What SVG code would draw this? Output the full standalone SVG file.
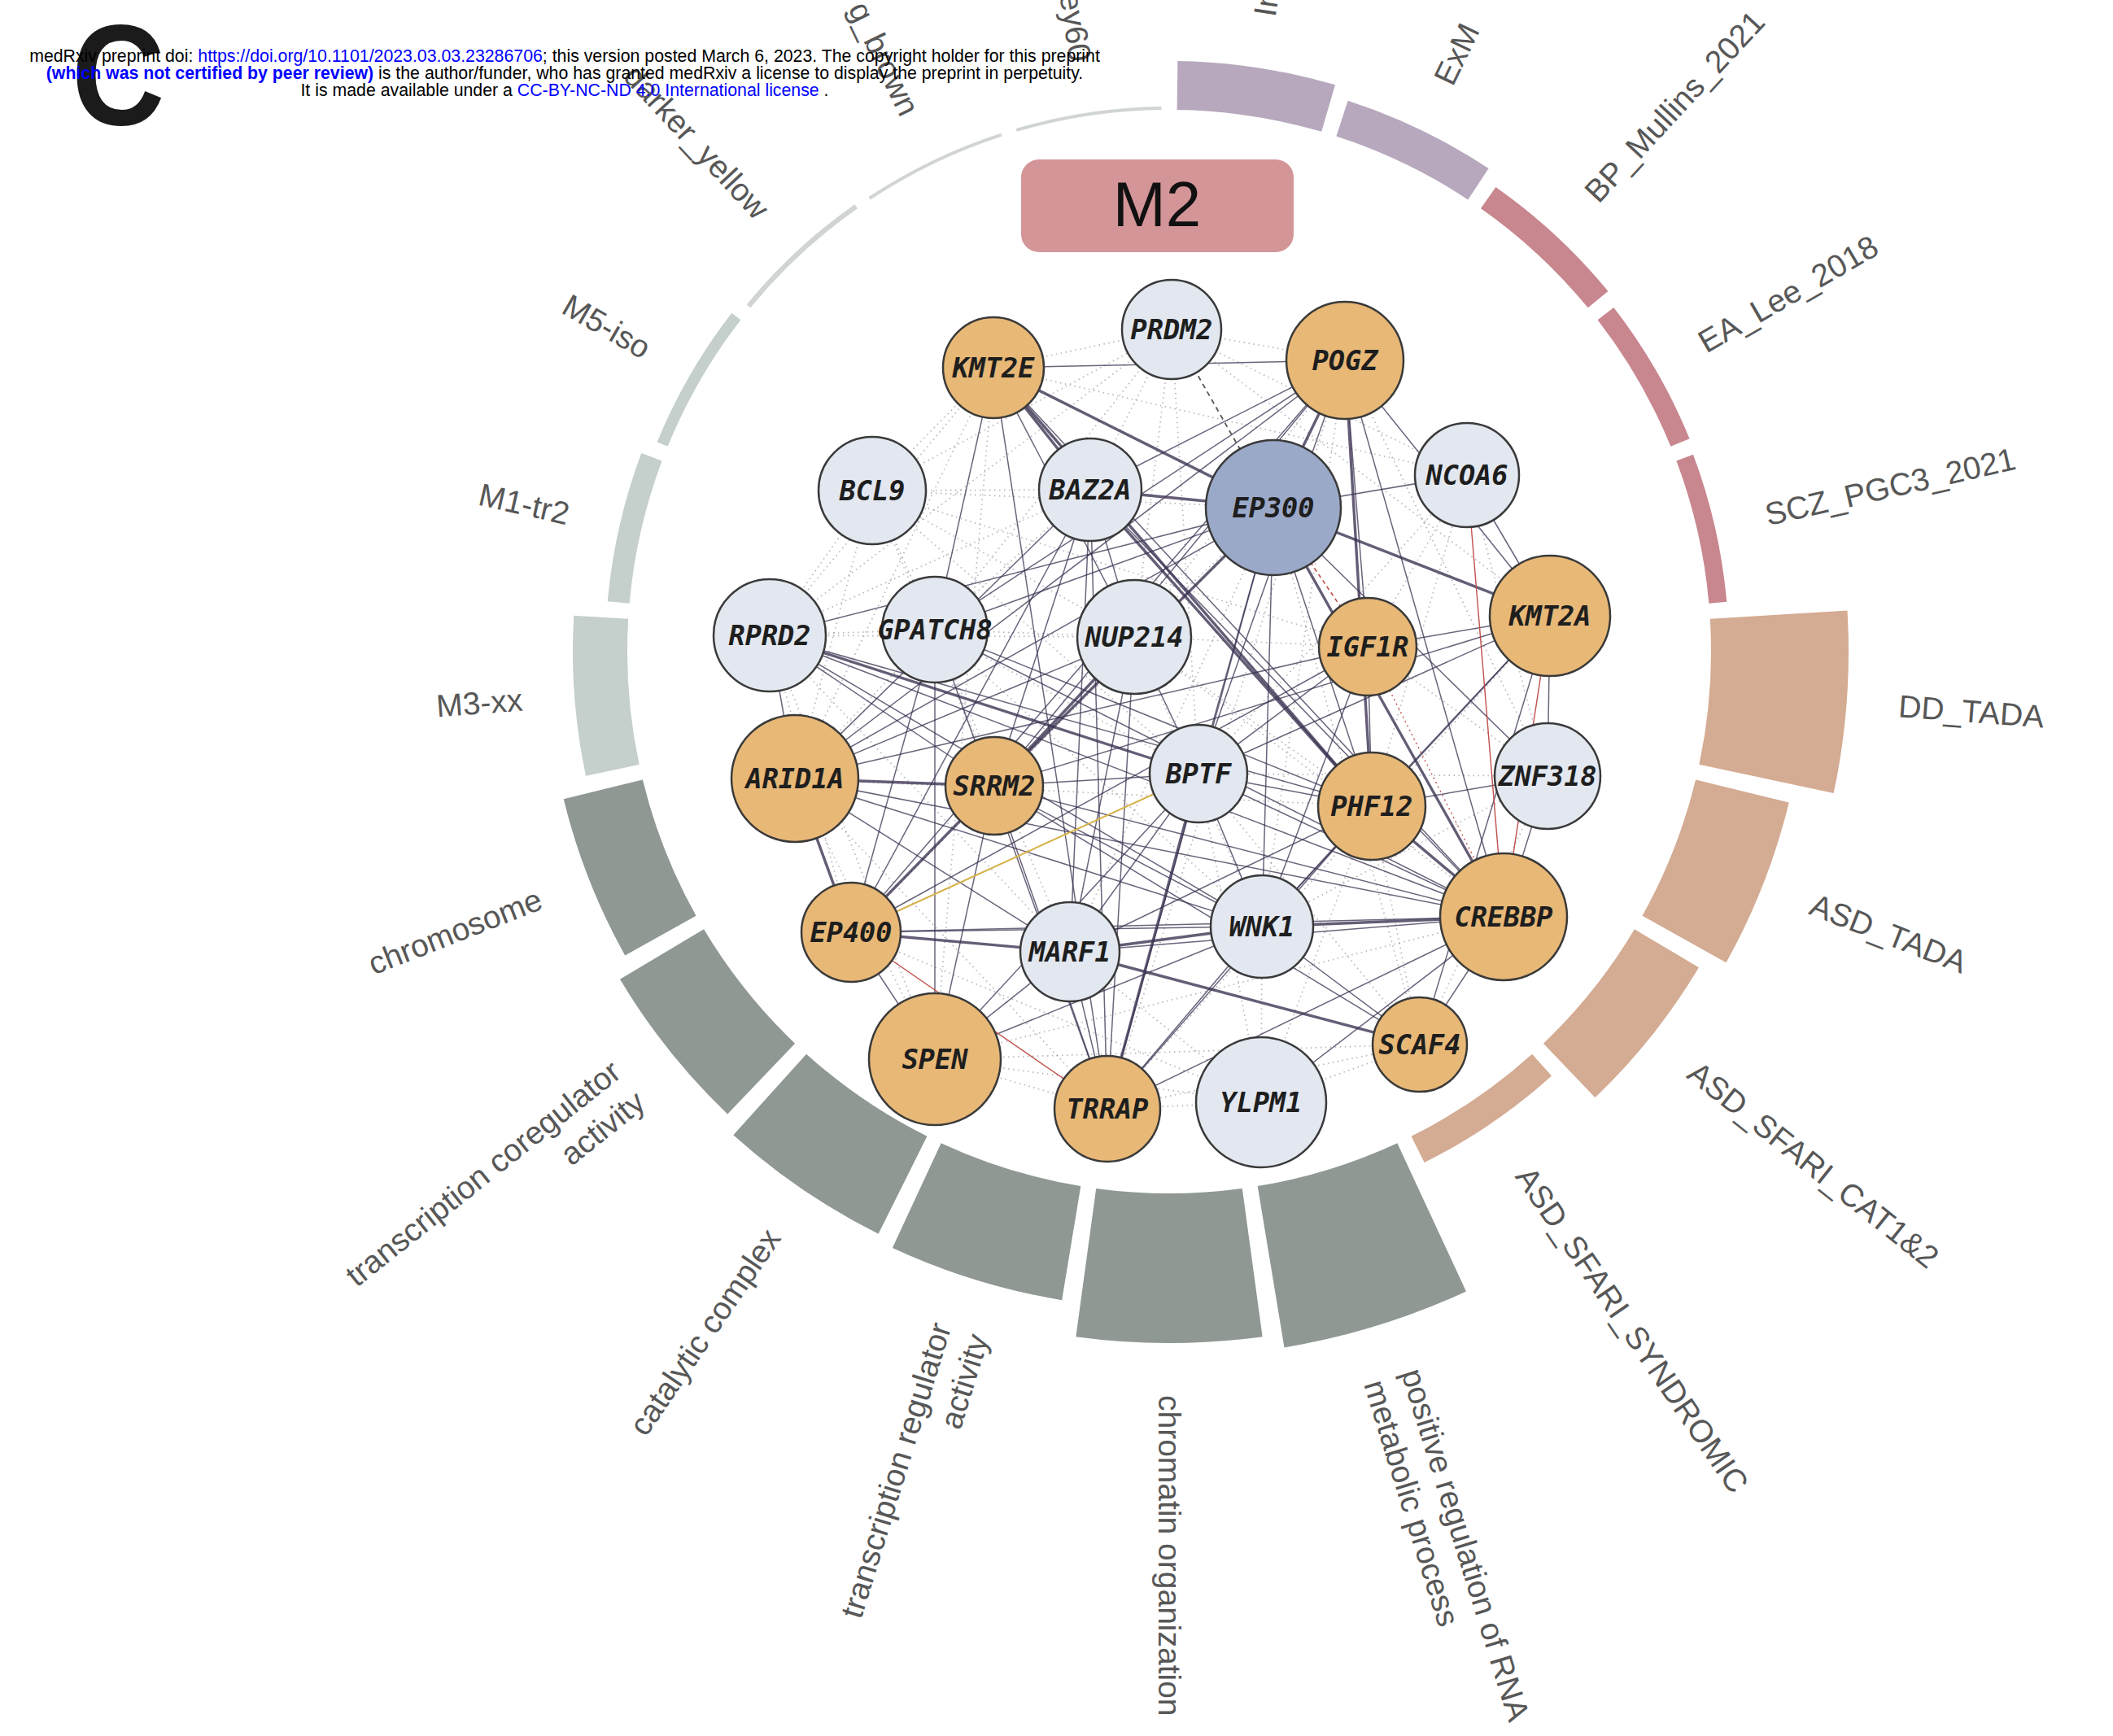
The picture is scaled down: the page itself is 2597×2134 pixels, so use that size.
<svg xmlns="http://www.w3.org/2000/svg" width="2597" height="2134" viewBox="0 0 2597 2134">
<style>
.lbl{font-family:"Liberation Sans",Arial,sans-serif;font-size:39px;fill:#575757}
.tan{fill:#d4ab93}.gry{fill:#8f9892}.mod{fill:#c5cfcb}.thin{fill:#d0d4d3}.mau{fill:#b7a8bd}.ros{fill:#c8878f}
.e{stroke:#3a3050;stroke-width:1.5;stroke-opacity:.75;fill:none}
.eh{stroke:#3a3050;stroke-width:3.4;stroke-opacity:.78;fill:none}
.d{stroke:#8f8f98;stroke-width:1.7;stroke-dasharray:1.5 4.5;stroke-opacity:.65;fill:none}
.node circle{stroke:#3a3a3a;stroke-width:2.5}
.or{fill:#e8b877}.lt{fill:#e3e8f0}.bl{fill:#9ba9c9}
.node text{font-family:"DejaVu Sans Mono",monospace;font-weight:bold;font-style:italic;font-size:33.5px;fill:#1e1e1e;text-anchor:middle}
.hdr{font-family:"Liberation Sans",Arial,sans-serif;font-size:21.3px;fill:#000;text-anchor:middle}
.lnk{fill:#0000ff}
</style>

<!-- panel letter -->
<text x="88" y="153" font-family="Liberation Sans,Arial,sans-serif" font-weight="bold" font-size="176" fill="#1b1b1b" transform="translate(88 0) scale(0.9 1) translate(-88 0)">C</text>

<!-- ring segments with labels -->
<g id="ring" transform="translate(1437 801)">
  <g id="seg-DD_TADA" transform="rotate(4.2857)">
    <path class="tan" d="M659.92 -89.81L827.37 -112.6A835 835 0 0 1 827.37 112.6L659.92 89.81A666 666 0 0 0 659.92 -89.81Z"/>
    <text class="lbl" x="899" y="13">DD_TADA</text>
  </g>
  <g id="seg-ASD_TADA" transform="rotate(21.4286)">
    <path class="tan" d="M659.92 -89.81L776.84 -105.72A784 784 0 0 1 776.84 105.72L659.92 89.81A666 666 0 0 0 659.92 -89.81Z"/>
    <text class="lbl" x="848" y="13">ASD_TADA</text>
  </g>
  <g id="seg-ASD_SFARI_CAT1and2" transform="rotate(38.5714)">
    <path class="tan" d="M659.92 -89.81L751.08 -102.22A758 758 0 0 1 751.08 102.22L659.92 89.81A666 666 0 0 0 659.92 -89.81Z"/>
    <text class="lbl" x="822" y="13">ASD_SFARI_CAT1&amp;2</text>
  </g>
  <g id="seg-ASD_SFARI_SYNDROMIC" transform="rotate(55.7143)">
    <path class="tan" d="M659.92 -89.81L695.59 -94.67A702 702 0 0 1 695.59 94.67L659.92 89.81A666 666 0 0 0 659.92 -89.81Z"/>
    <text class="lbl" x="772" y="13">ASD_SFARI_SYNDROMIC</text>
  </g>
  <g id="seg-posreg" transform="rotate(72.8571)">
    <path class="gry" d="M659.92 -89.81L859.08 -116.92A867 867 0 0 1 859.08 116.92L659.92 89.81A666 666 0 0 0 659.92 -89.81Z"/>
    <text class="lbl" x="931" y="-11">positive regulation of RNA</text>
    <text class="lbl" x="931" y="37">metabolic process</text>
  </g>
  <g id="seg-chromatin" transform="rotate(90)">
    <path class="gry" d="M659.92 -89.81L842.24 -114.62A850 850 0 0 1 842.24 114.62L659.92 89.81A666 666 0 0 0 659.92 -89.81Z"/>
    <text class="lbl" x="914" y="13">chromatin organization</text>
  </g>
  <g id="seg-trreg" transform="rotate(107.1429)">
    <path class="gry" d="M659.92 -89.81L800.62 -108.96A808 808 0 0 1 800.62 108.96L659.92 89.81A666 666 0 0 0 659.92 -89.81Z"/>
    <g transform="translate(872 0) rotate(180)"><text class="lbl" text-anchor="end" y="-11">transcription regulator</text><text class="lbl" text-anchor="end" y="37">activity</text></g>
  </g>
  <g id="seg-catalytic" transform="rotate(124.2857)">
    <path class="gry" d="M659.92 -89.81L792.69 -107.88A800 800 0 0 1 792.69 107.88L659.92 89.81A666 666 0 0 0 659.92 -89.81Z"/>
    <g transform="translate(864 0) rotate(180)"><text class="lbl" text-anchor="end" y="13">catalytic complex</text></g>
  </g>
  <g id="seg-coreg" transform="rotate(141.4286)">
    <path class="gry" d="M659.92 -89.81L778.82 -105.99A786 786 0 0 1 778.82 105.99L659.92 89.81A666 666 0 0 0 659.92 -89.81Z"/>
    <g transform="translate(850 0) rotate(180)"><text class="lbl" text-anchor="end" y="-11">transcription coregulator</text><text class="lbl" text-anchor="end" y="37">activity</text></g>
  </g>
  <g id="seg-chromosome" transform="rotate(158.5714)">
    <path class="gry" d="M659.92 -89.81L759 -103.3A766 766 0 0 1 759 103.3L659.92 89.81A666 666 0 0 0 659.92 -89.81Z"/>
    <g transform="translate(830 0) rotate(180)"><text class="lbl" text-anchor="end" y="13">chromosome</text></g>
  </g>
  <g id="seg-M3-xx" transform="rotate(175.7143)">
    <path class="mod" d="M659.92 -89.81L726.3 -98.85A733 733 0 0 1 726.3 98.85L659.92 89.81A666 666 0 0 0 659.92 -89.81Z"/>
    <g transform="translate(797 0) rotate(180)"><text class="lbl" text-anchor="end" y="13">M3-xx</text></g>
  </g>
  <g id="seg-M1-tr2" transform="rotate(192.8571)">
    <path class="mod" d="M659.92 -89.81L686.67 -93.45A693 693 0 0 1 686.67 93.45L659.92 89.81A666 666 0 0 0 659.92 -89.81Z"/>
    <g transform="translate(757 0) rotate(180)"><text class="lbl" text-anchor="end" y="13">M1-tr2</text></g>
  </g>
  <g id="seg-M5-iso" transform="rotate(210)">
    <path class="mod" d="M659.92 -89.81L673.79 -91.7A680 680 0 0 1 673.79 91.7L659.92 89.81A666 666 0 0 0 659.92 -89.81Z"/>
    <g transform="translate(740 0) rotate(180)"><text class="lbl" text-anchor="end" y="13">M5-iso</text></g>
  </g>
  <g id="seg-darker_yellow" transform="rotate(227.1429)">
    <path class="thin" d="M659.92 -89.81L665.86 -90.62A672 672 0 0 1 665.86 90.62L659.92 89.81A666 666 0 0 0 659.92 -89.81Z"/>
    <g transform="translate(734 0) rotate(180)"><text class="lbl" text-anchor="end" y="13">darker_yellow</text></g>
  </g>
  <g id="seg-g_brown" transform="rotate(244.2857)">
    <path class="thin" d="M659.92 -89.81L663.88 -90.35A670 670 0 0 1 663.88 90.35L659.92 89.81A666 666 0 0 0 659.92 -89.81Z"/>
    <g transform="translate(734 0) rotate(180)"><text class="lbl" text-anchor="end" y="13">g_brown</text></g>
  </g>
  <g id="seg-grey60" transform="rotate(261.4286)">
    <path class="thin" d="M659.92 -89.81L663.88 -90.35A670 670 0 0 1 663.88 90.35L659.92 89.81A666 666 0 0 0 659.92 -89.81Z"/>
    <g transform="translate(734 0) rotate(180)"><text class="lbl" text-anchor="end" y="13">ey60</text></g>
  </g>
  <g id="seg-In" transform="rotate(278.5714)">
    <path class="mau" d="M659.92 -89.81L719.37 -97.9A726 726 0 0 1 719.37 97.9L659.92 89.81A666 666 0 0 0 659.92 -89.81Z"/>
    <text class="lbl" x="790" y="13">In</text>
  </g>
  <g id="seg-ExM" transform="rotate(295.7143)">
    <path class="mau" d="M659.92 -89.81L705.5 -96.01A712 712 0 0 1 705.5 96.01L659.92 89.81A666 666 0 0 0 659.92 -89.81Z"/>
    <text class="lbl" x="776" y="13">ExM</text>
  </g>
  <g id="seg-BP_Mullins_2021" transform="rotate(312.8571)">
    <path class="ros" d="M659.92 -89.81L691.62 -94.13A698 698 0 0 1 691.62 94.13L659.92 89.81A666 666 0 0 0 659.92 -89.81Z"/>
    <text class="lbl" x="762" y="13">BP_Mullins_2021</text>
  </g>
  <g id="seg-EA_Lee_2018" transform="rotate(330)">
    <path class="ros" d="M659.92 -89.81L684.69 -93.18A691 691 0 0 1 684.69 93.18L659.92 89.81A666 666 0 0 0 659.92 -89.81Z"/>
    <text class="lbl" x="755" y="13">EA_Lee_2018</text>
  </g>
  <g id="seg-SCZ_PGC3_2021" transform="rotate(347.1429)">
    <path class="ros" d="M659.92 -89.81L681.72 -92.78A688 688 0 0 1 681.72 92.78L659.92 89.81A666 666 0 0 0 659.92 -89.81Z"/>
    <text class="lbl" x="752" y="13">SCZ_PGC3_2021</text>
  </g>
</g>

<!-- module title -->
<g id="title-M2">
  <rect x="1255" y="196" width="335" height="114" rx="22" fill="#d49598"/>
  <text x="1422" y="278" font-family="Liberation Sans,Arial,sans-serif" font-size="78" fill="#111" text-anchor="middle">M2</text>
</g>

<!-- connectors -->
<g id="edges">
  <g id="dotted">
    <line class="d" x1="1072" y1="603" x2="1149" y2="774"/>
    <line class="d" x1="1072" y1="603" x2="1340" y2="602"/>
    <line class="d" x1="1072" y1="603" x2="1394" y2="783"/>
    <line class="d" x1="1072" y1="603" x2="1221" y2="452"/>
    <line class="d" x1="1072" y1="603" x2="946" y2="781"/>
    <line class="d" x1="1072" y1="603" x2="1440" y2="405"/>
    <line class="d" x1="1072" y1="603" x2="1473" y2="951"/>
    <line class="d" x1="1072" y1="603" x2="1565" y2="624"/>
    <line class="d" x1="1072" y1="603" x2="977" y2="957"/>
    <line class="d" x1="1072" y1="603" x2="1222" y2="966"/>
    <line class="d" x1="1072" y1="603" x2="1681" y2="795"/>
    <line class="d" x1="1440" y1="405" x2="1653" y2="443"/>
    <line class="d" x1="1440" y1="405" x2="1221" y2="452"/>
    <line class="d" x1="1440" y1="405" x2="1803" y2="584"/>
    <line class="d" x1="1440" y1="405" x2="1340" y2="602"/>
    <line class="d" x1="1440" y1="405" x2="1394" y2="783"/>
    <line class="d" x1="1440" y1="405" x2="1905" y2="757"/>
    <line class="d" x1="1440" y1="405" x2="1149" y2="774"/>
    <line class="d" x1="1440" y1="405" x2="1473" y2="951"/>
    <line class="d" x1="1440" y1="405" x2="946" y2="781"/>
    <line class="d" x1="1550" y1="1355" x2="1361" y2="1363"/>
    <line class="d" x1="1550" y1="1355" x2="1745" y2="1284"/>
    <line class="d" x1="1550" y1="1355" x2="1315" y2="1170"/>
    <line class="d" x1="1550" y1="1355" x2="1551" y2="1139"/>
    <line class="d" x1="1550" y1="1355" x2="1149" y2="1302"/>
    <line class="d" x1="1550" y1="1355" x2="1473" y2="951"/>
    <line class="d" x1="1550" y1="1355" x2="1686" y2="991"/>
    <line class="d" x1="1550" y1="1355" x2="1046" y2="1146"/>
    <line class="d" x1="1902" y1="954" x2="1681" y2="795"/>
    <line class="d" x1="1902" y1="954" x2="1803" y2="584"/>
    <line class="d" x1="1902" y1="954" x2="1745" y2="1284"/>
    <line class="d" x1="1902" y1="954" x2="1551" y2="1139"/>
    <line class="d" x1="1902" y1="954" x2="1473" y2="951"/>
    <line class="d" x1="946" y1="781" x2="1149" y2="774"/>
    <line class="d" x1="1149" y1="774" x2="1394" y2="783"/>
    <line class="d" x1="1394" y1="783" x2="1681" y2="795"/>
    <line class="d" x1="1394" y1="783" x2="1565" y2="624"/>
    <line class="d" x1="1394" y1="783" x2="1686" y2="991"/>
    <line class="d" x1="1394" y1="783" x2="1551" y2="1139"/>
    <line class="d" x1="1394" y1="783" x2="1848" y2="1127"/>
    <line class="d" x1="1803" y1="584" x2="1686" y2="991"/>
    <line class="d" x1="1803" y1="584" x2="1681" y2="795"/>
    <line class="d" x1="1803" y1="584" x2="1473" y2="951"/>
    <line class="d" x1="946" y1="781" x2="1046" y2="1146"/>
    <line class="d" x1="946" y1="781" x2="1315" y2="1170"/>
    <line class="d" x1="946" y1="781" x2="1394" y2="783"/>
    <line class="d" x1="946" y1="781" x2="1340" y2="602"/>
    <line class="d" x1="946" y1="781" x2="1149" y2="1302"/>
    <line class="d" x1="1149" y1="774" x2="1340" y2="602"/>
    <line class="d" x1="1149" y1="774" x2="1315" y2="1170"/>
    <line class="d" x1="1149" y1="774" x2="977" y2="957"/>
    <line class="d" x1="1149" y1="774" x2="1222" y2="966"/>
    <line class="d" x1="1149" y1="774" x2="1473" y2="951"/>
    <line class="d" x1="1149" y1="774" x2="1551" y2="1139"/>
    <line class="d" x1="1149" y1="1302" x2="1361" y2="1363"/>
    <line class="d" x1="1149" y1="1302" x2="977" y2="957"/>
    <line class="d" x1="1149" y1="1302" x2="1745" y2="1284"/>
    <line class="d" x1="1149" y1="1302" x2="1848" y2="1127"/>
    <line class="d" x1="1745" y1="1284" x2="1686" y2="991"/>
    <line class="d" x1="1745" y1="1284" x2="1361" y2="1363"/>
    <line class="d" x1="1745" y1="1284" x2="1473" y2="951"/>
    <line class="d" x1="1221" y1="452" x2="1149" y2="1302"/>
    <line class="d" x1="1221" y1="452" x2="977" y2="957"/>
    <line class="d" x1="1221" y1="452" x2="946" y2="781"/>
    <line class="d" x1="1221" y1="452" x2="1803" y2="584"/>
    <line class="d" x1="1653" y1="443" x2="1394" y2="783"/>
    <line class="d" x1="1653" y1="443" x2="1551" y2="1139"/>
    <line class="d" x1="1653" y1="443" x2="1902" y2="954"/>
    <line class="d" x1="1653" y1="443" x2="1361" y2="1363"/>
    <line class="d" x1="1565" y1="624" x2="1315" y2="1170"/>
    <line class="d" x1="1565" y1="624" x2="1046" y2="1146"/>
    <line class="d" x1="1565" y1="624" x2="1745" y2="1284"/>
    <line class="d" x1="977" y1="957" x2="1361" y2="1363"/>
    <line class="d" x1="977" y1="957" x2="1686" y2="991"/>
    <line class="d" x1="1905" y1="757" x2="1361" y2="1363"/>
  </g>
  <g id="solid">
    <line class="e" x1="1221" y1="452" x2="1653" y2="443"/>
    <line class="eh" x1="1221" y1="452" x2="1340" y2="602"/>
    <line class="eh" x1="1221" y1="452" x2="1565" y2="624"/>
    <line class="e" x1="1221" y1="452" x2="1149" y2="774"/>
    <line class="e" x1="1221" y1="452" x2="1361" y2="1363"/>
    <line class="e" x1="1221" y1="452" x2="1394" y2="783"/>
    <line class="eh" x1="1221" y1="452" x2="1686" y2="991"/>
    <line class="e" x1="1221" y1="452" x2="1848" y2="1127"/>
    <line class="eh" x1="1653" y1="443" x2="1565" y2="624"/>
    <line class="e" x1="1653" y1="443" x2="1340" y2="602"/>
    <line class="e" x1="1653" y1="443" x2="1149" y2="774"/>
    <line class="e" x1="1653" y1="443" x2="977" y2="957"/>
    <line class="e" x1="1653" y1="443" x2="1905" y2="757"/>
    <line class="e" x1="1653" y1="443" x2="1681" y2="795"/>
    <line class="eh" x1="1653" y1="443" x2="1686" y2="991"/>
    <line class="e" x1="1653" y1="443" x2="1473" y2="951"/>
    <line class="e" x1="1653" y1="443" x2="1848" y2="1127"/>
    <line class="e" x1="1653" y1="443" x2="1222" y2="966"/>
    <line class="e" x1="1653" y1="443" x2="1046" y2="1146"/>
    <line class="eh" x1="1340" y1="602" x2="1565" y2="624"/>
    <line class="e" x1="1340" y1="602" x2="1394" y2="783"/>
    <line class="eh" x1="1340" y1="602" x2="1686" y2="991"/>
    <line class="e" x1="1340" y1="602" x2="1848" y2="1127"/>
    <line class="e" x1="1340" y1="602" x2="1222" y2="966"/>
    <line class="e" x1="1340" y1="602" x2="1046" y2="1146"/>
    <line class="e" x1="1340" y1="602" x2="1315" y2="1170"/>
    <line class="e" x1="1340" y1="602" x2="1361" y2="1363"/>
    <line class="e" x1="1340" y1="602" x2="977" y2="957"/>
    <line class="e" x1="1565" y1="624" x2="1803" y2="584"/>
    <line class="eh" x1="1565" y1="624" x2="1905" y2="757"/>
    <line class="eh" x1="1565" y1="624" x2="1848" y2="1127"/>
    <line class="e" x1="1565" y1="624" x2="1686" y2="991"/>
    <line class="e" x1="1565" y1="624" x2="1473" y2="951"/>
    <line class="e" x1="1565" y1="624" x2="1551" y2="1139"/>
    <line class="e" x1="1565" y1="624" x2="1361" y2="1363"/>
    <line class="eh" x1="1565" y1="624" x2="1222" y2="966"/>
    <line class="e" x1="1565" y1="624" x2="1149" y2="774"/>
    <line class="e" x1="1565" y1="624" x2="946" y2="781"/>
    <line class="e" x1="1565" y1="624" x2="977" y2="957"/>
    <line class="e" x1="1565" y1="624" x2="1902" y2="954"/>
    <line class="e" x1="1803" y1="584" x2="1905" y2="757"/>
    <line class="e" x1="1905" y1="757" x2="1681" y2="795"/>
    <line class="e" x1="1905" y1="757" x2="1902" y2="954"/>
    <line class="e" x1="1905" y1="757" x2="1473" y2="951"/>
    <line class="e" x1="1905" y1="757" x2="1686" y2="991"/>
    <line class="e" x1="1905" y1="757" x2="1551" y2="1139"/>
    <line class="e" x1="1905" y1="757" x2="1222" y2="966"/>
    <line class="e" x1="1681" y1="795" x2="1473" y2="951"/>
    <line class="e" x1="1681" y1="795" x2="1686" y2="991"/>
    <line class="e" x1="1681" y1="795" x2="977" y2="957"/>
    <line class="e" x1="1681" y1="795" x2="1551" y2="1139"/>
    <line class="e" x1="1681" y1="795" x2="1046" y2="1146"/>
    <line class="eh" x1="1394" y1="783" x2="1222" y2="966"/>
    <line class="e" x1="1394" y1="783" x2="1473" y2="951"/>
    <line class="e" x1="1394" y1="783" x2="1315" y2="1170"/>
    <line class="e" x1="1394" y1="783" x2="1361" y2="1363"/>
    <line class="e" x1="1394" y1="783" x2="977" y2="957"/>
    <line class="e" x1="1149" y1="774" x2="1149" y2="1302"/>
    <line class="e" x1="1149" y1="774" x2="1361" y2="1363"/>
    <line class="e" x1="1149" y1="774" x2="1046" y2="1146"/>
    <line class="e" x1="1149" y1="774" x2="1848" y2="1127"/>
    <line class="e" x1="1149" y1="774" x2="1686" y2="991"/>
    <line class="e" x1="946" y1="781" x2="977" y2="957"/>
    <line class="eh" x1="946" y1="781" x2="1473" y2="951"/>
    <line class="e" x1="946" y1="781" x2="1686" y2="991"/>
    <line class="e" x1="946" y1="781" x2="1848" y2="1127"/>
    <line class="e" x1="946" y1="781" x2="1551" y2="1139"/>
    <line class="e" x1="946" y1="781" x2="1222" y2="966"/>
    <line class="eh" x1="977" y1="957" x2="1222" y2="966"/>
    <line class="eh" x1="977" y1="957" x2="1046" y2="1146"/>
    <line class="e" x1="977" y1="957" x2="1848" y2="1127"/>
    <line class="e" x1="977" y1="957" x2="1551" y2="1139"/>
    <line class="e" x1="977" y1="957" x2="1315" y2="1170"/>
    <line class="e" x1="1222" y1="966" x2="1473" y2="951"/>
    <line class="eh" x1="1222" y1="966" x2="1046" y2="1146"/>
    <line class="e" x1="1222" y1="966" x2="1361" y2="1363"/>
    <line class="e" x1="1222" y1="966" x2="1149" y2="1302"/>
    <line class="e" x1="1222" y1="966" x2="1848" y2="1127"/>
    <line class="e" x1="1222" y1="966" x2="1551" y2="1139"/>
    <line class="e" x1="1222" y1="966" x2="1745" y2="1284"/>
    <line class="e" x1="1473" y1="951" x2="1686" y2="991"/>
    <line class="e" x1="1473" y1="951" x2="1848" y2="1127"/>
    <line class="eh" x1="1473" y1="951" x2="1361" y2="1363"/>
    <line class="e" x1="1473" y1="951" x2="1149" y2="1302"/>
    <line class="e" x1="1473" y1="951" x2="1315" y2="1170"/>
    <line class="e" x1="1473" y1="951" x2="1551" y2="1139"/>
    <line class="eh" x1="1686" y1="991" x2="1848" y2="1127"/>
    <line class="e" x1="1686" y1="991" x2="1551" y2="1139"/>
    <line class="e" x1="1686" y1="991" x2="1315" y2="1170"/>
    <line class="e" x1="1686" y1="991" x2="1902" y2="954"/>
    <line class="e" x1="1686" y1="991" x2="1361" y2="1363"/>
    <line class="e" x1="1902" y1="954" x2="1848" y2="1127"/>
    <line class="eh" x1="1046" y1="1146" x2="1315" y2="1170"/>
    <line class="e" x1="1046" y1="1146" x2="1551" y2="1139"/>
    <line class="e" x1="1046" y1="1146" x2="1848" y2="1127"/>
    <line class="e" x1="1046" y1="1146" x2="1149" y2="1302"/>
    <line class="eh" x1="1315" y1="1170" x2="1551" y2="1139"/>
    <line class="eh" x1="1315" y1="1170" x2="1745" y2="1284"/>
    <line class="e" x1="1315" y1="1170" x2="1361" y2="1363"/>
    <line class="e" x1="1315" y1="1170" x2="1149" y2="1302"/>
    <line class="e" x1="1315" y1="1170" x2="1848" y2="1127"/>
    <line class="eh" x1="1551" y1="1139" x2="1848" y2="1127"/>
    <line class="e" x1="1551" y1="1139" x2="1361" y2="1363"/>
    <line class="e" x1="1551" y1="1139" x2="1745" y2="1284"/>
    <line class="e" x1="1361" y1="1363" x2="1848" y2="1127"/>
    <line class="e" x1="1149" y1="1302" x2="1551" y2="1139"/>
    <line class="e" x1="1550" y1="1355" x2="1848" y2="1127"/>
    <line class="e" x1="1745" y1="1284" x2="1848" y2="1127"/>
    <line class="e" x1="1745" y1="1284" x2="1905" y2="757"/>
  </g>
  <g id="special">
    <line x1="1046" y1="1146" x2="1473" y2="951" stroke="#d6b24a" stroke-width="2"/>
    <line x1="1046" y1="1146" x2="1361" y2="1363" stroke="#c0504d" stroke-width="1.4"/>
    <line x1="1803" y1="584" x2="1848" y2="1127" stroke="#c0504d" stroke-width="1.4"/>
    <line x1="1905" y1="757" x2="1848" y2="1127" stroke="#c0504d" stroke-width="1.4"/>
    <line x1="1565" y1="624" x2="1681" y2="795" stroke="#c0504d" stroke-width="1.6" stroke-dasharray="5 4"/>
    <line x1="1681" y1="795" x2="1848" y2="1127" stroke="#c0504d" stroke-width="1.4" stroke-dasharray="2 4"/>
    <line x1="1440" y1="405" x2="1565" y2="624" stroke="#555" stroke-width="1.8" stroke-dasharray="6 5"/>
  </g>
</g>

<!-- nodes -->
<g id="node-PRDM2" class="node"><circle class="lt" cx="1440" cy="405" r="61"/><text x="1440" y="417">PRDM2</text></g>
<g id="node-KMT2E" class="node"><circle class="or" cx="1221" cy="452" r="62"/><text x="1221" y="464">KMT2E</text></g>
<g id="node-POGZ" class="node"><circle class="or" cx="1653" cy="443" r="72"/><text x="1653" y="455">POGZ</text></g>
<g id="node-BCL9" class="node"><circle class="lt" cx="1072" cy="603" r="66"/><text x="1072" y="615">BCL9</text></g>
<g id="node-BAZ2A" class="node"><circle class="lt" cx="1340" cy="602" r="63"/><text x="1340" y="614">BAZ2A</text></g>
<g id="node-EP300" class="node"><circle class="bl" cx="1565" cy="624" r="83"/><text x="1565" y="636">EP300</text></g>
<g id="node-NCOA6" class="node"><circle class="lt" cx="1803" cy="584" r="64"/><text x="1803" y="596">NCOA6</text></g>
<g id="node-RPRD2" class="node"><circle class="lt" cx="946" cy="781" r="69"/><text x="946" y="793">RPRD2</text></g>
<g id="node-GPATCH8" class="node"><circle class="lt" cx="1149" cy="774" r="65"/><text x="1149" y="786">GPATCH8</text></g>
<g id="node-NUP214" class="node"><circle class="lt" cx="1394" cy="783" r="70"/><text x="1394" y="795">NUP214</text></g>
<g id="node-IGF1R" class="node"><circle class="or" cx="1681" cy="795" r="60"/><text x="1681" y="807">IGF1R</text></g>
<g id="node-KMT2A" class="node"><circle class="or" cx="1905" cy="757" r="74"/><text x="1905" y="769">KMT2A</text></g>
<g id="node-ARID1A" class="node"><circle class="or" cx="977" cy="957" r="78"/><text x="977" y="969">ARID1A</text></g>
<g id="node-SRRM2" class="node"><circle class="or" cx="1222" cy="966" r="60"/><text x="1222" y="978">SRRM2</text></g>
<g id="node-BPTF" class="node"><circle class="lt" cx="1473" cy="951" r="60"/><text x="1473" y="963">BPTF</text></g>
<g id="node-PHF12" class="node"><circle class="or" cx="1686" cy="991" r="66"/><text x="1686" y="1003">PHF12</text></g>
<g id="node-ZNF318" class="node"><circle class="lt" cx="1902" cy="954" r="65"/><text x="1902" y="966">ZNF318</text></g>
<g id="node-EP400" class="node"><circle class="or" cx="1046" cy="1146" r="61"/><text x="1046" y="1158">EP400</text></g>
<g id="node-MARF1" class="node"><circle class="lt" cx="1315" cy="1170" r="61"/><text x="1315" y="1182">MARF1</text></g>
<g id="node-WNK1" class="node"><circle class="lt" cx="1551" cy="1139" r="63"/><text x="1551" y="1151">WNK1</text></g>
<g id="node-CREBBP" class="node"><circle class="or" cx="1848" cy="1127" r="78"/><text x="1848" y="1139">CREBBP</text></g>
<g id="node-SPEN" class="node"><circle class="or" cx="1149" cy="1302" r="81"/><text x="1149" y="1314">SPEN</text></g>
<g id="node-TRRAP" class="node"><circle class="or" cx="1361" cy="1363" r="65"/><text x="1361" y="1375">TRRAP</text></g>
<g id="node-YLPM1" class="node"><circle class="lt" cx="1550" cy="1355" r="80"/><text x="1550" y="1367">YLPM1</text></g>
<g id="node-SCAF4" class="node"><circle class="or" cx="1745" cy="1284" r="58"/><text x="1745" y="1296">SCAF4</text></g>

<!-- preprint header -->
<g id="header">
  <text class="hdr" x="694" y="76">medRxiv preprint doi: <tspan class="lnk">https://doi.org/10.1101/2023.03.03.23286706</tspan>; this version posted March 6, 2023. The copyright holder for this preprint</text>
  <text class="hdr" x="694" y="97"><tspan class="lnk" font-weight="bold">(which was not certified by peer review)</tspan> is the author/funder, who has granted medRxiv a license to display the preprint in perpetuity.</text>
  <text class="hdr" x="694" y="118">It is made available under a <tspan class="lnk">CC-BY-NC-ND 4.0 International license</tspan> .</text>
</g>
</svg>
